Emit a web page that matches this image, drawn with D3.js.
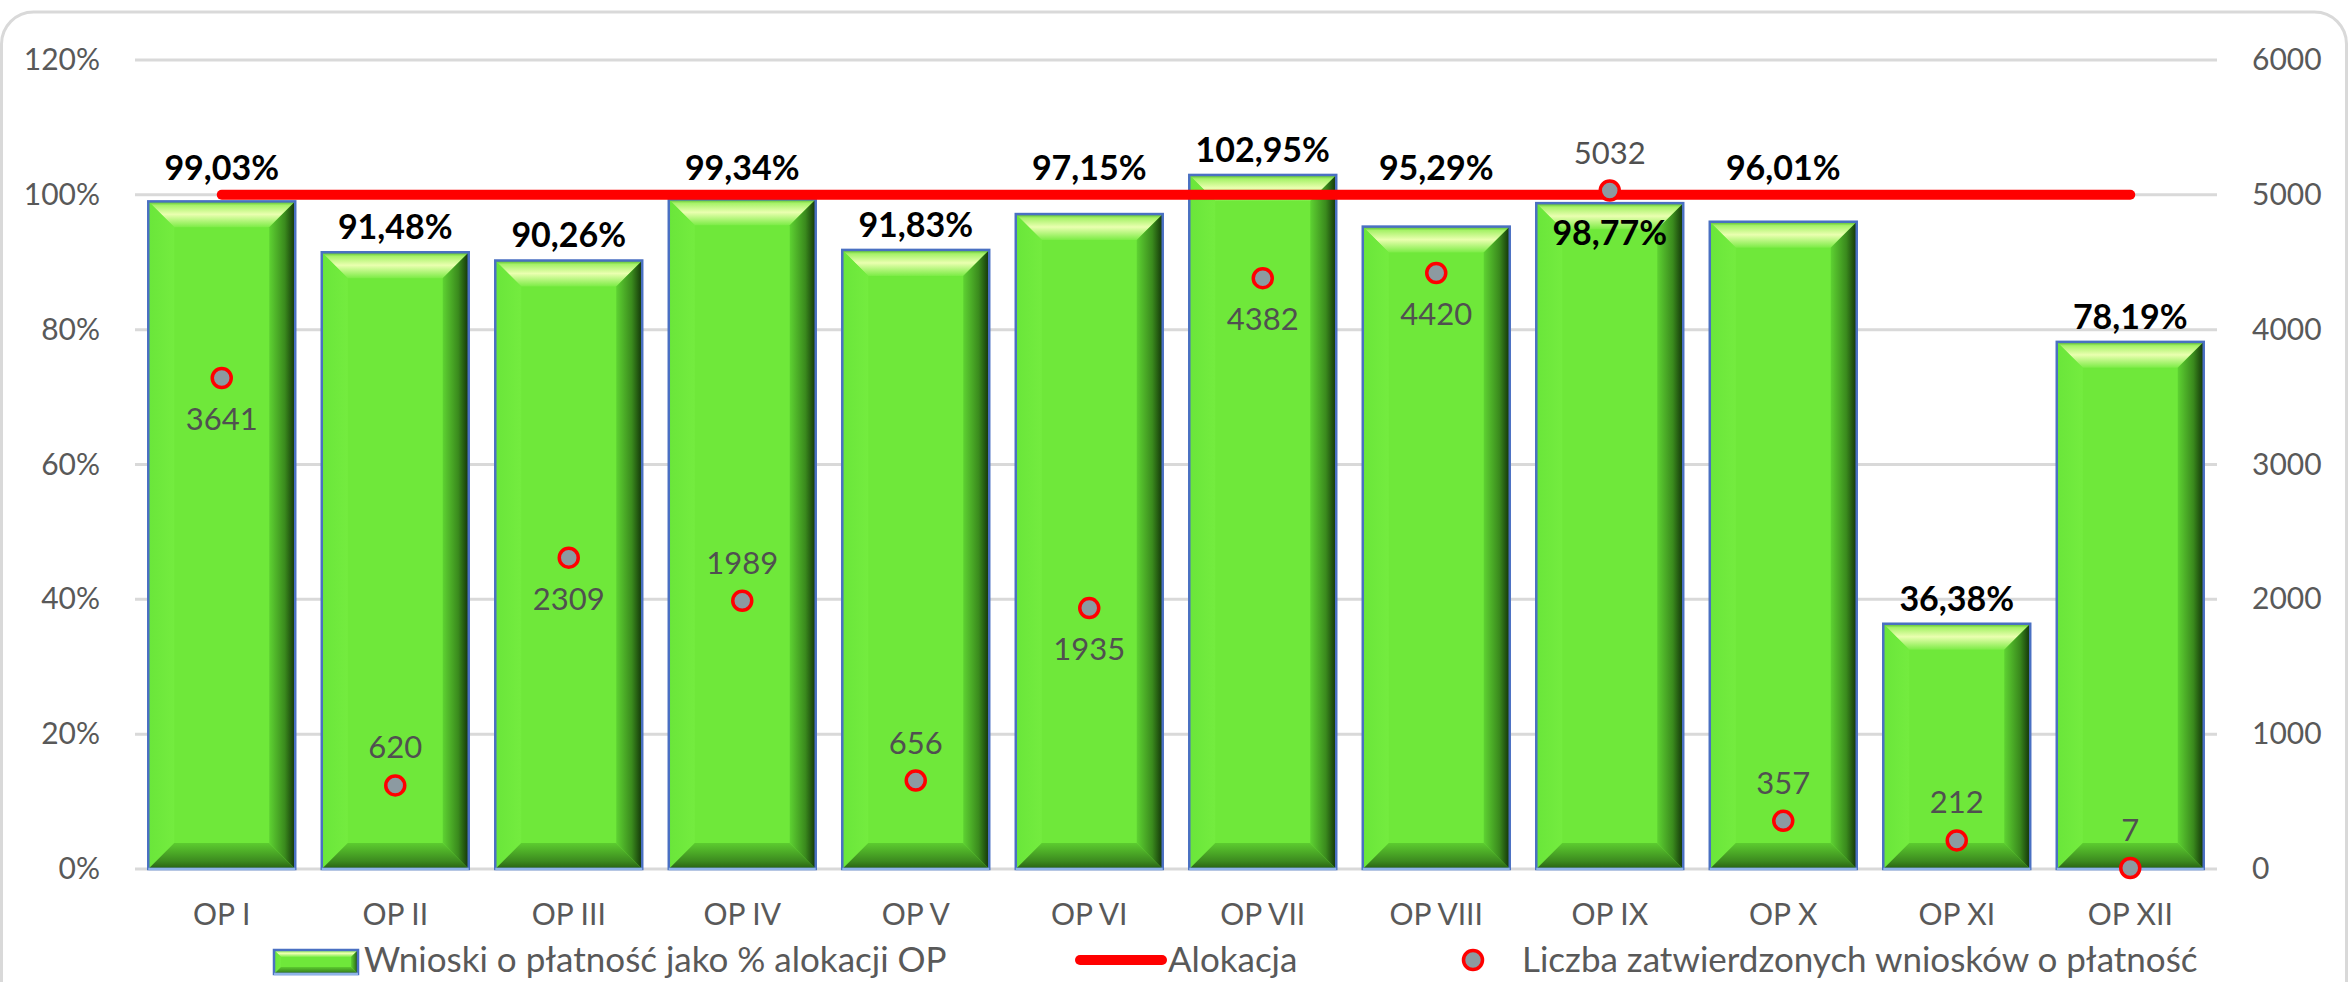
<!DOCTYPE html>
<html lang="pl">
<head>
<meta charset="utf-8">
<title>Wnioski o płatność</title>
<script src="https://d3js.org/d3.v7.min.js"></script>
<style>
  body { margin: 0; background: #fff; }
  svg { display: block; font-family: Lato, "Open Sans", sans-serif; }
</style>
</head>
<body>
<script>
// data
var categories = ["OP I", "OP II", "OP III", "OP IV", "OP V", "OP VI", "OP VII", "OP VIII", "OP IX", "OP X", "OP XI", "OP XII"];
var paymentPct = [99.03, 91.48, 90.26, 99.34, 91.83, 97.15, 102.95, 95.29, 98.77, 96.01, 36.38, 78.19];
var allocation = [100, 100, 100, 100, 100, 100, 100, 100, 100, 100, 100, 100];
var approvedCount = [3641, 620, 2309, 1989, 656, 1935, 4382, 4420, 5032, 357, 212, 7];
var leftTicks = [0, 20, 40, 60, 80, 100, 120];
var rightTicks = [0, 1000, 2000, 3000, 4000, 5000, 6000];
var legendNames = ["Wnioski o płatność jako % alokacji OP", "Alokacja", "Liczba zatwierdzonych wniosków o płatność"];
// where the labels sit
var barLabelSide = ["out", "out", "out", "out", "out", "out", "out", "out", "in", "out", "out", "out"];
var countLabelSide = ["below", "above", "below", "above", "above", "below", "below", "below", "above", "above", "above", "above"];

var width = 2348, height = 982;
var plotL = 135, plotR = 2217, plotT = 60, plotB = 869;

var svg = d3.select("body").append("svg")
    .attr("width", width)
    .attr("height", height);

// gradients for bevel look
var defs = svg.append("defs");
function grad(id, x2, y2, stops) {
    var g = defs.append("linearGradient").attr("id", id)
        .attr("x1", 0).attr("y1", 0).attr("x2", x2).attr("y2", y2);
    stops.forEach(function(s) {
        g.append("stop").attr("offset", s[0]).attr("stop-color", s[1]);
    });
}
grad("bvTop", 0, 1, [[0, "#4fb428"], [0.15, "#a6f268"], [0.5, "#eaffb0"], [1, "#7cec46"]]);
grad("bvRight", 1, 0, [[0, "#5ed232"], [0.6, "#3a8a1d"], [1, "#123208"]]);
grad("bvBottom", 0, 1, [[0, "#5ccc2f"], [0.7, "#3c8a1f"], [1, "#275f12"]]);
grad("bvLeft", 1, 0, [[0, "#6ae63a"], [1, "#74ec3f"]]);

// frame
svg.append("rect")
    .attr("x", 1.5).attr("y", 12)
    .attr("width", 2345).attr("height", 1100)
    .attr("rx", 32)
    .attr("fill", "none")
    .attr("stroke", "#d9d9d9")
    .attr("stroke-width", 3);

// scales
var x = d3.scaleBand().domain(categories).range([plotL, plotR]).paddingInner(0.153).paddingOuter(0.0765);
var yL = d3.scaleLinear().domain([0, 120]).range([plotB, plotT]);
var yR = d3.scaleLinear().domain([0, 6000]).range([plotB, plotT]);
var cx = function(i) { return x(categories[i]) + x.bandwidth() / 2; };

// grid
svg.append("g").selectAll("line")
    .data(leftTicks)
    .enter().append("line")
    .attr("x1", plotL).attr("x2", plotR)
    .attr("y1", function(d) { return yL(d); })
    .attr("y2", function(d) { return yL(d); })
    .attr("stroke", "#d9d9d9")
    .attr("stroke-width", 3);

// axes (text only, like excel)
var axL = svg.append("g")
    .attr("transform", "translate(100,0)")
    .call(d3.axisLeft(yL).tickValues(leftTicks).tickSize(0).tickPadding(0).tickFormat(function(d) { return d + "%"; }));
var axR = svg.append("g")
    .attr("transform", "translate(2252,0)")
    .call(d3.axisRight(yR).tickValues(rightTicks).tickSize(0).tickPadding(0).tickFormat(d3.format("d")));
var axB = svg.append("g")
    .attr("transform", "translate(0," + plotB + ")")
    .call(d3.axisBottom(x).tickSize(0).tickPadding(35));
[axL, axR, axB].forEach(function(a) {
    a.select(".domain").remove();
    a.selectAll("text")
        .attr("fill", "#595959")
        .style("font-size", "30px")
        .style("font-family", "Lato, sans-serif");
});

// bevelled bar
function bevelBar(g, bx, by, bw, bh, b) {
    g.append("rect").attr("x", bx).attr("y", by).attr("width", bw).attr("height", bh).attr("fill", "#6fe83a");
    var pts = {
        bvTop: [[bx, by], [bx + bw, by], [bx + bw - b, by + b], [bx + b, by + b]],
        bvLeft: [[bx, by], [bx + b, by + b], [bx + b, by + bh - b], [bx, by + bh]],
        bvBottom: [[bx, by + bh], [bx + bw, by + bh], [bx + bw - b, by + bh - b], [bx + b, by + bh - b]],
        bvRight: [[bx + bw, by], [bx + bw, by + bh], [bx + bw - b, by + bh - b], [bx + bw - b, by + b]]
    };
    Object.keys(pts).forEach(function(k) {
        g.append("polygon")
            .attr("points", pts[k].map(function(p) { return p.join(","); }).join(" "))
            .attr("fill", "url(#" + k + ")");
    });
    g.append("rect").attr("x", bx).attr("y", by).attr("width", bw).attr("height", bh)
        .attr("fill", "none").attr("stroke", "#4a70c2").attr("stroke-width", 2.5);
    g.append("line").attr("x1", bx).attr("x2", bx + bw).attr("y1", by + bh).attr("y2", by + bh)
        .attr("stroke", "#8fb4e8").attr("stroke-width", 2.5);
}

var bars = svg.append("g");
paymentPct.forEach(function(v, i) {
    var g = bars.append("g");
    bevelBar(g, x(categories[i]), yL(v), x.bandwidth(), yL(0) - yL(v), 26);
});

// allocation line
var line = d3.line()
    .x(function(d, i) { return cx(i); })
    .y(function(d) { return yL(d); });
svg.append("path")
    .datum(allocation)
    .attr("d", line)
    .attr("fill", "none")
    .attr("stroke", "#ff0000")
    .attr("stroke-width", 10)
    .attr("stroke-linecap", "round");

// bar labels - lifted over the red line when they would hit it
var fmtPct = function(v) { return d3.format(".2f")(v).replace(".", ",") + "%"; };
function barLabelY(v, i) {
    var barTop = yL(v), lineY = yL(allocation[i]);
    if (barLabelSide[i] == "in") return barTop + 42;
    var b = barTop - 13;
    if (b > lineY - 12 && b - 26 < lineY + 6) b = lineY - 15;
    return b;
}
svg.append("g").selectAll("text")
    .data(paymentPct)
    .enter().append("text")
    .attr("x", function(d, i) { return cx(i); })
    .attr("y", barLabelY)
    .attr("text-anchor", "middle")
    .attr("font-size", 34)
    .attr("font-weight", "bold")
    .attr("fill", "#000")
    .text(fmtPct);

// count points
svg.append("g").selectAll("circle")
    .data(approvedCount)
    .enter().append("circle")
    .attr("cx", function(d, i) { return cx(i); })
    .attr("cy", function(d) { return yR(d); })
    .attr("r", 9.5)
    .attr("fill", "#8c9aa1")
    .attr("stroke", "#ff0000")
    .attr("stroke-width", 3.5);

svg.append("g").selectAll("text")
    .data(approvedCount)
    .enter().append("text")
    .attr("x", function(d, i) { return cx(i); })
    .attr("y", function(d, i) { return countLabelSide[i] == "below" ? yR(d) + 52 : yR(d) - 27; })
    .attr("text-anchor", "middle")
    .attr("font-size", 31)
    .attr("fill", "#505050")
    .text(function(d) { return d; });

// legend
var lg = svg.append("g");
var legG = lg.append("g");
bevelBar(legG, 274, 950, 84, 24, 7);
lg.append("text").attr("x", 364).attr("y", 972).attr("font-size", 35).attr("fill", "#595959").text(legendNames[0]);
lg.append("line").attr("x1", 1080).attr("x2", 1162).attr("y1", 960).attr("y2", 960)
    .attr("stroke", "#ff0000").attr("stroke-width", 10).attr("stroke-linecap", "round");
lg.append("text").attr("x", 1168).attr("y", 972).attr("font-size", 35).attr("fill", "#595959").text(legendNames[1]);
lg.append("circle").attr("cx", 1473).attr("cy", 960).attr("r", 9.5)
    .attr("fill", "#8c9aa1").attr("stroke", "#ff0000").attr("stroke-width", 3.5);
lg.append("text").attr("x", 1522).attr("y", 972).attr("font-size", 35).attr("fill", "#595959").text(legendNames[2]);
</script>
</body>
</html>
